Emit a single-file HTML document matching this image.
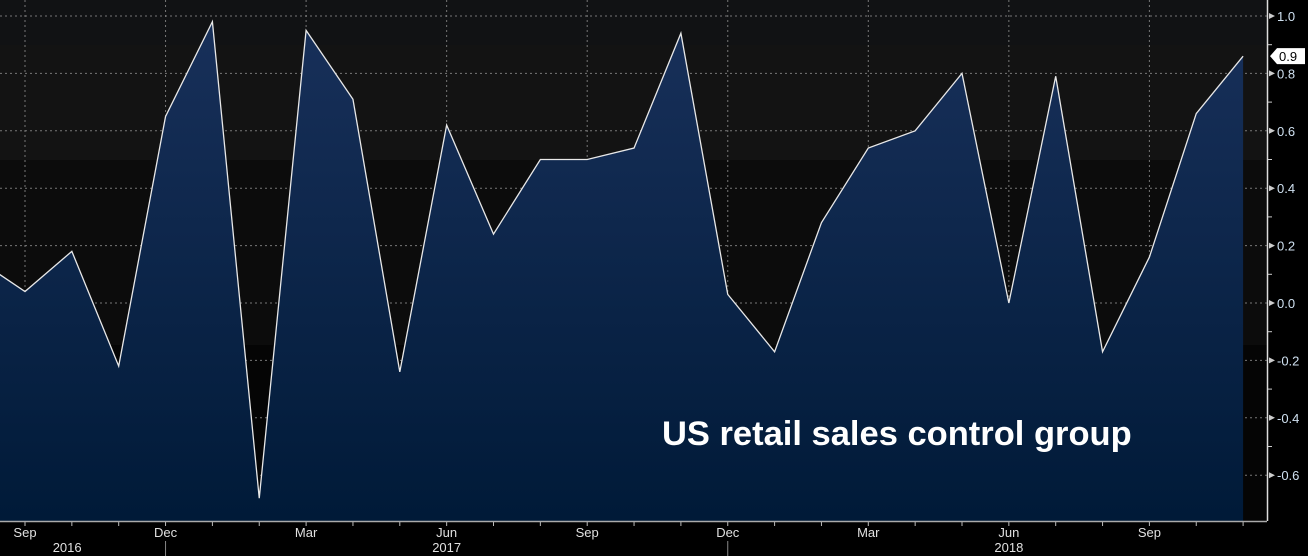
<!DOCTYPE html>
<html><head><meta charset="utf-8"><style>
html,body{margin:0;padding:0;background:#000;}
svg{display:block;font-family:"Liberation Sans",Tahoma,sans-serif;}
</style></head><body>
<svg id="chart" width="1308" height="556" viewBox="0 0 1308 556" xmlns="http://www.w3.org/2000/svg">
<defs>
<linearGradient id="fillg" x1="0" y1="0" x2="0" y2="1">
<stop offset="0" stop-color="#18305a"/><stop offset="1" stop-color="#001a38"/>
</linearGradient>
<clipPath id="plotclip"><rect x="0" y="0" width="1267" height="521"/></clipPath>
</defs>
<rect x="0" y="0" width="1267" height="521" fill="#111214"/>
<rect x="0" y="45" width="1267" height="115" fill="#131313"/>
<rect x="0" y="160" width="1267" height="185" fill="#0c0c0c"/>
<rect x="0" y="345" width="1267" height="176" fill="#050505"/>
<g id="grid"></g>
<g id="series" clip-path="url(#plotclip)"></g>
<g id="axes"></g>
<text x="662" y="445" fill="#fff" font-size="34.5" font-weight="bold">US retail sales control group</text>
</svg>
<script>
const months = ["Aug16","Sep16","Oct16","Nov16","Dec16","Jan17","Feb17","Mar17","Apr17","May17","Jun17","Jul17","Aug17","Sep17","Oct17","Nov17","Dec17","Jan18","Feb18","Mar18","Apr18","May18","Jun18","Jul18","Aug18","Sep18","Oct18","Nov18"];
const values = [0.15,0.04,0.18,-0.22,0.65,0.98,-0.68,0.95,0.71,-0.24,0.62,0.24,0.50,0.50,0.54,0.94,0.03,-0.17,0.28,0.54,0.60,0.80,0.00,0.79,-0.17,0.16,0.66,0.86];
const yTicks = [1.0,0.8,0.6,0.4,0.2,0.0,-0.2,-0.4,-0.6];
const xTickLabels = ["Sep","Dec","Mar","Jun","Sep","Dec","Mar","Jun","Sep"];
const xTickIndex = [1,4,7,10,13,16,19,22,25];
const yearLabels = ["2016","2017","2018"];
const yearIndex = [1.9,10,22];
const lastLabel = "0.9";

const NS="http://www.w3.org/2000/svg";
const X0=-21.85, DX=46.85, Y0=303, PY=287;
const xs=i=>X0+i*DX;
const ys=v=>Y0-v*PY;
function mk(tag,attrs,parent){const e=document.createElementNS(NS,tag);for(const k in attrs)e.setAttribute(k,attrs[k]);parent.appendChild(e);return e;}
const grid=document.getElementById('grid'),series=document.getElementById('series'),axes=document.getElementById('axes');

yTicks.forEach(t=>{
  const y=ys(t);
  const l=mk('line',{x1:0,x2:1267,y1:y,y2:y,stroke:'#777','stroke-dasharray':'2,3','stroke-width':1},grid);
  
  
  const tk=mk('path',{d:`M1269 ${y-3} L1275 ${y} L1269 ${y+3} Z`,fill:'#ccc'},axes);
  
  
  const tx=mk('text',{x:1277,y:y+5,fill:'#cfe0f0','font-size':13},axes);
  tx.textContent=t.toFixed(1);
  
  
});
for(let i=0;i<yTicks.length-1;i++){
  const y=(ys(yTicks[i])+ys(yTicks[i+1]))/2;
  mk('line',{x1:1267,x2:1272,y1:y,y2:y,stroke:'#ccc'},axes);
}
xTickIndex.forEach((idx,k)=>{
  const x=xs(idx);
  const l=mk('line',{x1:x,x2:x,y1:0,y2:521,stroke:'#777','stroke-dasharray':'2,3'},grid);
  
  
  const tx=mk('text',{x:x,y:537,fill:'#e0e0e0','font-size':13,'text-anchor':'middle'},axes);
  tx.textContent=xTickLabels[k];
  
  
});
months.forEach((m,i)=>{if(xs(i)>0)mk('line',{x1:xs(i),x2:xs(i),y1:521,y2:526,stroke:'#bbb'},axes);});
yearLabels.forEach((yl,k)=>{
  const tx=mk('text',{x:xs(yearIndex[k]),y:552,fill:'#e0e0e0','font-size':13,'text-anchor':'middle'},axes);
  tx.textContent=yl;
  
  
});
[4,16].forEach(i=>mk('line',{x1:xs(i),x2:xs(i),y1:541,y2:556,stroke:'#888'},axes));

let pts=values.map((v,i)=>xs(i)+','+ys(v));
const area=mk('polygon',{points:pts.join(' ')+` ${xs(values.length-1)},521 ${xs(0)},521`,fill:'url(#fillg)'},series);


const line=mk('polyline',{points:pts.join(' '),fill:'none',stroke:'#e8e8e8','stroke-width':1.3},series);



mk('line',{x1:0,x2:1267,y1:521.5,y2:521.5,stroke:'#aaa','stroke-width':1.5},axes);
mk('line',{x1:1267.5,x2:1267.5,y1:0,y2:521,stroke:'#ddd','stroke-width':1.5},axes);
const ly=ys(values[values.length-1]);
const badge=mk('path',{d:`M1270 ${ly} L1277 ${ly-8} L1305 ${ly-8} L1305 ${ly+8} L1277 ${ly+8} Z`,fill:'#fff'},axes);


const bt=mk('text',{x:1279,y:ly+5,fill:'#000','font-size':13},axes);
bt.textContent=lastLabel;


</script>
</body></html>
